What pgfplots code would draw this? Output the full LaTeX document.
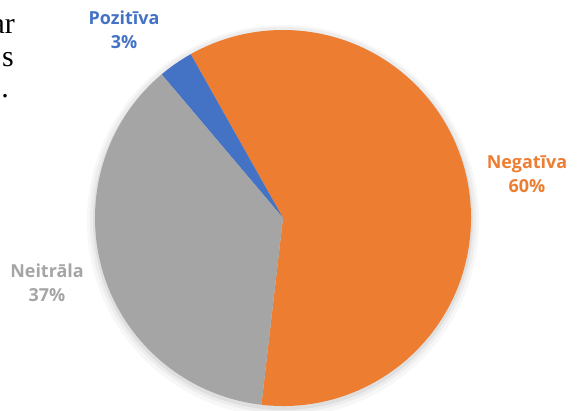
\documentclass[border=0pt]{standalone}
\usepackage{fontspec}
\setmainfont{Open Sans}
\newfontfamily\serif{Liberation Serif}
\usepackage{pgfplots}
\pgfplotsset{compat=1.18}

\definecolor{pieorange}{HTML}{ED7D31}
\definecolor{pieblue}{HTML}{4472C4}
\definecolor{piegray}{HTML}{A5A5A5}

\begin{document}
\begin{tikzpicture}
\begin{axis}[
    scale only axis,
    x=1bp, y=1bp,
    xmin=-283, xmax=296,
    ymin=-192, ymax=218,
    hide axis,
    clip=false,
]
% soft shadow under the pie
\fill[black, opacity=0.03] (axis cs:0,-3) circle[radius=196bp];
\fill[black, opacity=0.04] (axis cs:0,-2) circle[radius=193bp];
\fill[black, opacity=0.06] (axis cs:0,-2) circle[radius=190bp];

% slices: Negatīva 60, Pozitīva 3, Neitrāla 37 (percent), counterclockwise from -96.6 deg
\fill[pieorange] (axis cs:0,0) -- ++(-96.6:188bp)
    arc[start angle=-96.6, delta angle={60*3.6}, radius=188bp] -- cycle;
\fill[pieblue] (axis cs:0,0) -- ++({-96.6+60*3.6}:188bp)
    arc[start angle={-96.6+60*3.6}, delta angle={3*3.6}, radius=188bp] -- cycle;
\fill[piegray] (axis cs:0,0) -- ++({-96.6+63*3.6}:188bp)
    arc[start angle={-96.6+63*3.6}, delta angle={37*3.6}, radius=188bp] -- cycle;

\node[align=center, text=pieblue, font=\bfseries\fontsize{18}{24}\selectfont]
    at (axis cs:-159,188) {Pozitīva\\3\%};
\node[align=center, text=pieorange, font=\bfseries\fontsize{18}{24}\selectfont]
    at (axis cs:244,44) {Negatīva\\60\%};
\node[align=center, text=piegray, font=\bfseries\fontsize{18}{24}\selectfont]
    at (axis cs:-236,-65) {Neitrāla\\37\%};

% cut-off body text at the left edge
\node[anchor=base east, inner sep=0pt, font=\serif\fontsize{30}{30}\selectfont]
    at (axis cs:-268,185) {ar};
\node[anchor=base east, inner sep=0pt, font=\serif\fontsize{30}{30}\selectfont]
    at (axis cs:-269,152) {s};
\node[anchor=base east, inner sep=0pt, font=\serif\fontsize{30}{30}\selectfont]
    at (axis cs:-274,121) {.};

\coordinate (ll) at (rel axis cs:0,0);
\coordinate (ur) at (rel axis cs:1,1);
\end{axis}
\pgfresetboundingbox
\path (ll) rectangle (ur);
\end{tikzpicture}
\end{document}
